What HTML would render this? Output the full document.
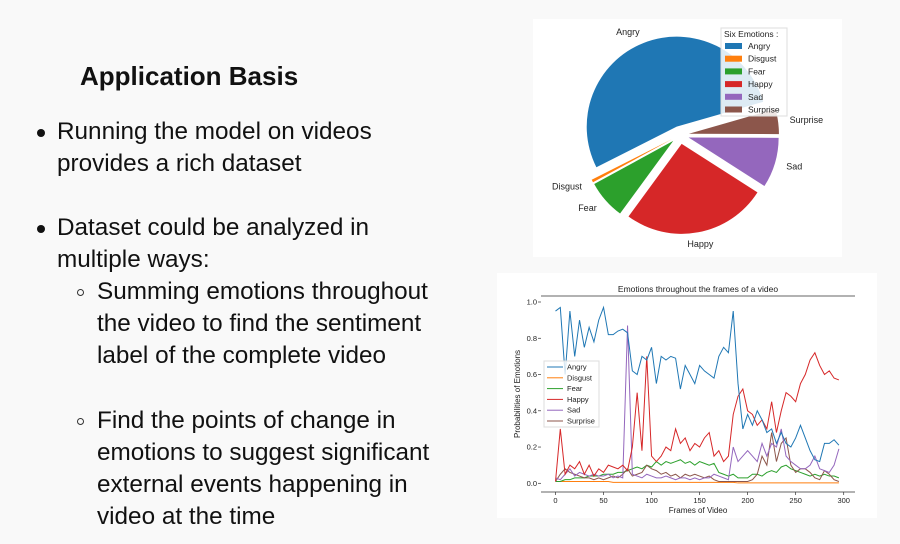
<!DOCTYPE html>
<html><head><meta charset="utf-8">
<style>
body{margin:0;width:900px;height:544px;background:#f9f9f9;position:relative;overflow:hidden;font-family:"Liberation Sans",sans-serif;color:#111}
.t{position:absolute;font-size:24.3px;white-space:nowrap;line-height:32px}
.dot{position:absolute;width:8px;height:8px;border-radius:50%;background:#111}
.cir{position:absolute;width:7px;height:7px;border-radius:50%;border:1.3px solid #333;box-sizing:border-box}
.card{position:absolute;background:#fff}
</style></head><body>
<div class="t" style="left:80px;top:60px;font-weight:bold;font-size:26px">Application Basis</div>
<div class="dot" style="left:37px;top:129px"></div>
<div class="t" style="left:57px;top:116px">Running the model on videos<br>provides a rich dataset</div>
<div class="dot" style="left:37px;top:225px"></div>
<div class="t" style="left:57px;top:212px">Dataset could be analyzed in<br>multiple ways:</div>
<div class="cir" style="left:77px;top:289px"></div>
<div class="t" style="left:97px;top:276px">Summing emotions throughout<br>the video to find the sentiment<br>label of the complete video</div>
<div class="cir" style="left:77px;top:418px"></div>
<div class="t" style="left:97px;top:405px">Find the points of change in<br>emotions to suggest significant<br>external events happening in<br>video at the time</div>

<div class="card" style="left:533px;top:19px;width:309px;height:238px"></div>
<svg id="pie" width="900" height="544" style="position:absolute;left:0;top:0" font-family="Liberation Sans, sans-serif"></svg>
<div class="card" style="left:497px;top:273px;width:380px;height:245px"></div>
<svg id="line" width="900" height="544" style="position:absolute;left:0;top:0" font-family="Liberation Sans, sans-serif"></svg>

<script>
const emotions=["Angry","Disgust","Fear","Happy","Sad","Surprise"];
const colors=["#1f77b4","#ff7f0e","#2ca02c","#d62728","#9467bd","#8c564b"];
const pieShares=[0.53,0.005,0.07,0.26,0.09,0.045];
const NS="http://www.w3.org/2000/svg";
function mk(p,tag,a){const e=document.createElementNS(NS,tag);for(const k in a)e.setAttribute(k,a[k]);p.appendChild(e);return e;}
(function(){
const svg=document.getElementById('pie');
const cx=680,cy=135,r=90,ex=9,start=16;
let ang=start;
pieShares.forEach((v,i)=>{
 const sweep=v*360,a0=ang,a1=ang+sweep,mid=(a0+a1)/2*Math.PI/180;
 const ox=cx+ex*Math.cos(mid),oy=cy-ex*Math.sin(mid);
 const p0=[ox+r*Math.cos(a0*Math.PI/180),oy-r*Math.sin(a0*Math.PI/180)];
 const p1=[ox+r*Math.cos(a1*Math.PI/180),oy-r*Math.sin(a1*Math.PI/180)];
 const w=mk(svg,'path',{d:`M${ox},${oy}L${p0[0]},${p0[1]}A${r},${r} 0 ${sweep>180?1:0} 0 ${p1[0]},${p1[1]}Z`,fill:colors[i]});
 
 
 const lx=ox+1.13*r*Math.cos(mid),ly=oy-1.13*r*Math.sin(mid);
 const t=mk(svg,'text',{x:lx,y:ly+3,'font-size':9,fill:'#222','text-anchor':Math.cos(mid)>0.2?'start':(Math.cos(mid)<-0.2?'end':'middle')});
 t.textContent=emotions[i];
 
 
 ang=a1;
});
const lg=mk(svg,'g',{});


mk(lg,'rect',{x:721,y:28,width:66,height:88,fill:'#fff','fill-opacity':0.85,stroke:'#ddd'});
const tt=mk(lg,'text',{x:724,y:37,'font-size':8.5,fill:'#222'});tt.textContent='Six Emotions :';
emotions.forEach((e,i)=>{
 const y=46+i*12.7;
 const sw=mk(lg,'rect',{x:725,y:y-3,width:17,height:6,fill:colors[i]});
 
 
 const t=mk(lg,'text',{x:748,y:y+3,'font-size':8.5,fill:'#222'});t.textContent=e;
 
 
});
})();
</script>
<script>
const frames=[0,5,10,15,20,25,30,35,40,45,50,55,60,65,70,75,80,85,90,95,100,105,110,115,120,125,130,135,140,145,150,155,160,165,170,175,180,185,190,195,200,205,210,215,220,225,230,235,240,245,250,255,260,265,270,275,280,285,290,295];
const angry=[0.95,0.97,0.6,0.95,0.7,0.9,0.75,0.86,0.78,0.9,0.97,0.82,0.82,0.84,0.85,0.83,0.62,0.6,0.7,0.68,0.75,0.55,0.7,0.68,0.7,0.69,0.52,0.65,0.6,0.55,0.65,0.62,0.6,0.58,0.7,0.75,0.72,0.95,0.55,0.3,0.38,0.32,0.4,0.35,0.28,0.3,0.22,0.28,0.22,0.2,0.25,0.32,0.25,0.18,0.13,0.12,0.22,0.22,0.24,0.21];
const disgust=[0.01,0.01,0.01,0.01,0.01,0.01,0.01,0.01,0.01,0.01,0.01,0.01,0.005,0.005,0.005,0.005,0.005,0.005,0.005,0.005,0.005,0.005,0.005,0.005,0.005,0.005,0.005,0.005,0.005,0.005,0.005,0.005,0.005,0.005,0.005,0.005,0.005,0.005,0.002,0.002,0.002,0.002,0.002,0.002,0.002,0.002,0.002,0.002,0.002,0.002,0.002,0.002,0.002,0.002,0.002,0.002,0.002,0.002,0.002,0.002];
const fear=[0.01,0.01,0.02,0.02,0.03,0.03,0.03,0.04,0.04,0.04,0.05,0.05,0.05,0.06,0.06,0.07,0.08,0.09,0.08,0.1,0.09,0.12,0.1,0.12,0.11,0.12,0.13,0.11,0.12,0.1,0.12,0.11,0.1,0.11,0.06,0.05,0.04,0.05,0.03,0.03,0.03,0.05,0.05,0.04,0.06,0.07,0.06,0.09,0.1,0.08,0.07,0.06,0.05,0.04,0.05,0.04,0.05,0.04,0.04,0.03];
const happy=[0.01,0.3,0.05,0.1,0.08,0.12,0.05,0.1,0.04,0.08,0.06,0.1,0.09,0.08,0.1,0.07,0.2,0.5,0.18,0.7,0.15,0.12,0.15,0.2,0.18,0.3,0.22,0.25,0.18,0.22,0.2,0.25,0.28,0.15,0.18,0.12,0.15,0.38,0.48,0.52,0.4,0.38,0.32,0.35,0.3,0.45,0.28,0.4,0.5,0.48,0.45,0.55,0.6,0.68,0.72,0.65,0.6,0.62,0.58,0.57];
const sad=[0.03,0.02,0.05,0.08,0.04,0.06,0.05,0.04,0.05,0.04,0.04,0.05,0.03,0.04,0.03,0.87,0.05,0.04,0.03,0.05,0.04,0.03,0.03,0.04,0.03,0.02,0.03,0.03,0.02,0.03,0.02,0.03,0.03,0.05,0.04,0.03,0.02,0.2,0.12,0.15,0.18,0.15,0.12,0.22,0.15,0.22,0.2,0.3,0.15,0.12,0.1,0.08,0.08,0.1,0.15,0.08,0.07,0.06,0.1,0.19];
const surprise=[0.01,0.05,0.08,0.06,0.05,0.04,0.03,0.03,0.02,0.03,0.02,0.03,0.04,0.03,0.05,0.08,0.04,0.05,0.06,0.1,0.08,0.07,0.05,0.06,0.04,0.05,0.03,0.05,0.04,0.05,0.04,0.03,0.04,0.02,0.01,0.01,0.01,0.01,0.01,0.01,0.01,0.02,0.05,0.15,0.1,0.28,0.12,0.22,0.25,0.1,0.06,0.08,0.08,0.06,0.03,0.02,0.07,0.05,0.02,0.01];
const xTicks=[0,50,100,150,200,250,300];
const yTicks=[0.0,0.2,0.4,0.6,0.8,1.0];
const seriesNames=["Angry","Disgust","Fear","Happy","Sad","Surprise"];
(function(){
const svg=document.getElementById('line');
const cols=["#1f77b4","#ff7f0e","#2ca02c","#d62728","#9467bd","#8c564b"];
const X=v=>555.5+(v/300)*288.2, Y=v=>483.3-v*181.3;
const L=541,R=855,T=296,B=492;
mk(svg,'line',{x1:L,y1:T,x2:R,y2:T,stroke:'#333','stroke-width':0.8});
mk(svg,'line',{x1:L,y1:B,x2:R,y2:B,stroke:'#333','stroke-width':0.8});
const ti=mk(svg,'text',{x:698,y:292,'font-size':8.5,'text-anchor':'middle',fill:'#222'});ti.textContent='Emotions throughout the frames of a video';


xTicks.forEach(v=>{mk(svg,'line',{x1:X(v),y1:B,x2:X(v),y2:B+3,stroke:'#333','stroke-width':0.7});
 const t=mk(svg,'text',{x:X(v),y:B+11,'font-size':7.5,'text-anchor':'middle',fill:'#222'});t.textContent=v;
 
 });
yTicks.forEach(v=>{mk(svg,'line',{x1:L-3,y1:Y(v),x2:L,y2:Y(v),stroke:'#333','stroke-width':0.7});
 const t=mk(svg,'text',{x:L-4,y:Y(v)+2.5,'font-size':7.5,'text-anchor':'end',fill:'#222'});t.textContent=v.toFixed(1);
 
 });
const xl=mk(svg,'text',{x:698,y:513,'font-size':8,'text-anchor':'middle',fill:'#222'});xl.textContent='Frames of Video';


const yl=mk(svg,'text',{x:0,y:0,'font-size':8,'text-anchor':'middle',fill:'#222',transform:'translate(520,394) rotate(-90)'});yl.textContent='Probabilities of Emotions';


const data=[angry,disgust,fear,happy,sad,surprise];
[1,2,5,4,3,0].forEach(i=>{
 const pts=frames.map((f,j)=>X(f)+','+Y(data[i][j])).join(' ');
 const pl=mk(svg,'polyline',{points:pts,fill:'none',stroke:cols[i],'stroke-width':1});
 
 
});
const lg=mk(svg,'g',{});


mk(lg,'rect',{x:544,y:361,width:55,height:66,fill:'#fff','fill-opacity':0.8,stroke:'#ddd'});
seriesNames.forEach((n,i)=>{const y=367+i*10.8;
 mk(lg,'line',{x1:547,y1:y,x2:563,y2:y,stroke:cols[i],'stroke-width':1});
 const t=mk(lg,'text',{x:567,y:y+2.5,'font-size':7.5,fill:'#222'});t.textContent=n;
 
 });
})();
</script>
</body></html>
